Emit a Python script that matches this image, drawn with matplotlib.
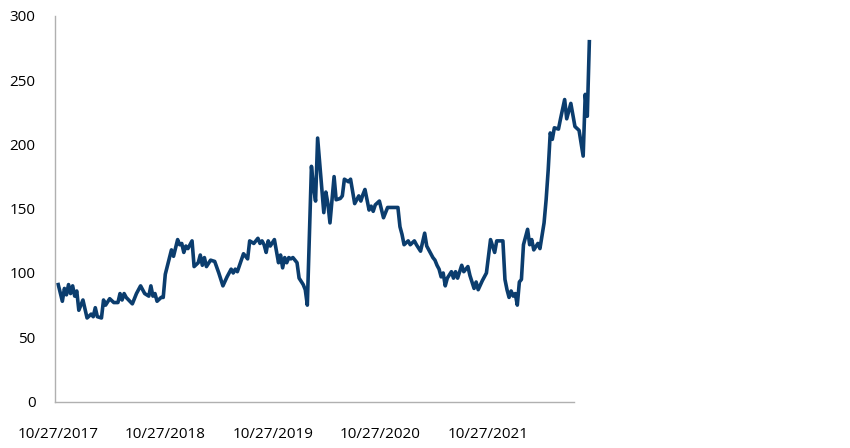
import matplotlib
matplotlib.use("Agg")
import matplotlib.pyplot as plt
import matplotlib.dates as mdates
import numpy as np
import pandas as pd

start_date = "2017-10-27"
week_offsets = [0,2,3,4,5,6,7,8,9,10,12,14,16,17,18,19,21,22,23,25,27,29,30,31,32,33,36,38,40,42,44,45,46,47,48,50,51,52,55,56,58,59,60,61,62,63,65,66,68,69,70,71,72,74,76,78,80,82,84,85,86,87,90,91,92,93,95,97,98,99,100,101,102,103,105,107,108,109,110,111,112,113,114,116,117,119,120,121,123,124,125,126,129,130,131,132,134,135,137,138,139,141,142,144,145,146,147,148,149,150,151,152,153,154,156,158,160,165,166,167,168,170,171,173,174,176,178,179,181,182,183,184,185,186,187,188,189,191,192,193,194,196,197,199,200,202,203,204,206,208,209,210,212,213,216,217,218,219,220,221,222,223,224,225,226,228,229,230,231,233,234,236,237,238,239,240,241,243,244,246,247,249,251,253,255,256,257,258]
values = [91,78,88,83,91,84,90,82,86,71,79,65,68,66,73,66,65,79,75,80,77,77,84,79,84,81,76,84,90,84,82,90,82,84,78,81,81,99,118,113,126,122,123,116,121,119,125,105,108,114,106,112,105,110,109,100,90,97,103,100,103,101,115,113,111,125,123,127,123,125,122,116,125,121,126,108,114,104,112,108,112,111,112,108,96,91,87,75,183,167,156,205,147,163,154,139,175,157,158,160,173,171,173,154,157,160,156,161,165,157,149,152,148,153,156,143,151,151,136,130,122,125,122,125,122,117,131,121,115,112,110,106,103,97,100,90,96,101,96,101,96,106,101,105,98,88,93,87,94,100,113,126,116,125,125,95,87,81,86,82,84,75,93,95,122,134,122,126,118,123,119,139,157,180,209,204,213,212,220,235,220,232,214,211,191,239,222,280]
tick_dates = ["2017-10-27", "2018-10-27", "2019-10-27", "2020-10-27", "2021-10-27"]
y_ticks = [0, 50, 100, 150, 200, 250, 300]

start = pd.Timestamp(start_date)
dates = start + pd.to_timedelta(np.array(week_offsets) * 7, unit="D")

plt.rcParams['font.family'] = ['Open Sans', 'DejaVu Sans']

fig = plt.figure(figsize=(8.5, 4.48), dpi=100)
ax = fig.add_axes([55/850, 1 - 401.5/448, 537/850, 385.5/448])

ax.plot(dates, values, color="#0b3d6e", lw=2.6, solid_joinstyle="round", clip_on=False)

ax.set_ylim(0, 300)
ax.set_yticks(y_ticks)
left = start - pd.Timedelta(days=11)
right = start + pd.Timedelta(days=1815)
ax.set_xlim(left, right)
ax.set_xticks(pd.to_datetime(tick_dates))
ax.xaxis.set_major_formatter(mdates.DateFormatter("%m/%d/%Y"))

for s in ["top", "right"]:
    ax.spines[s].set_visible(False)
for s in ["left", "bottom"]:
    ax.spines[s].set_color("#b0b0b0")
    ax.spines[s].set_linewidth(1.0)
ax.spines["bottom"].set_bounds(mdates.date2num(left), mdates.date2num(start + pd.Timedelta(days=1755)))

ax.tick_params(axis="y", length=0, pad=14, labelsize=11, colors="#000000")
ax.tick_params(axis="x", length=0, pad=18, labelsize=11, colors="#000000")

fig.savefig("out.png", dpi=100)
